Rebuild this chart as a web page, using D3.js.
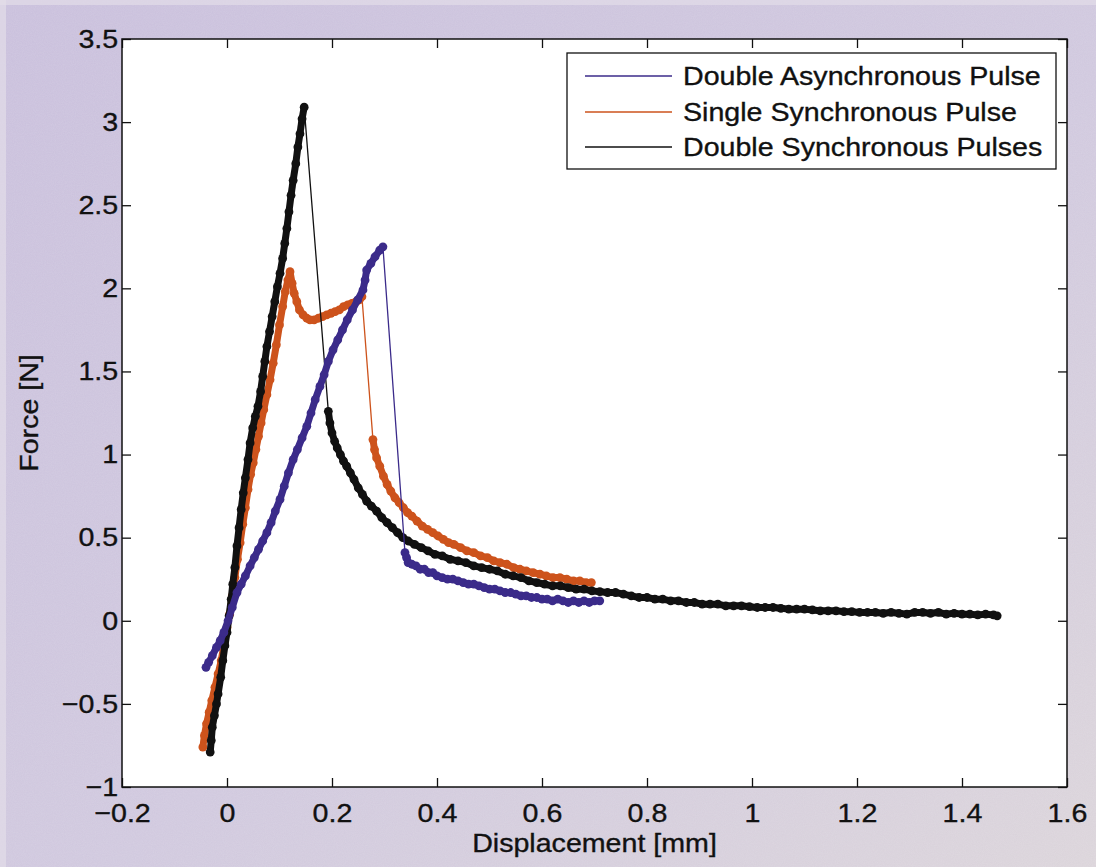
<!DOCTYPE html>
<html><head><meta charset="utf-8">
<script src="https://cdn.jsdelivr.net/npm/d3@7"></script>
<style>
html,body{margin:0;padding:0;background:#cfc7dd;}
svg{display:block;}
text{font-family:"Liberation Sans",Arial,Helvetica,sans-serif;fill:#111;stroke:#111;stroke-width:0.35px;}
</style></head>
<body>
<svg id="chart" width="1096" height="867"></svg>
<script>
// ---- Data ----
const seriesNames = ["Double Asynchronous Pulse","Single Synchronous Pulse","Double Synchronous Pulses"];
const seriesColors = ["#3b2b8a","#cd531c","#111111"];

const asyncX = [-0.040,-0.035,-0.028,-0.020,-0.013,-0.006,0.002,0.010,0.019,0.027,0.035,0.044,0.052,0.060,0.068,0.076,0.084,0.092,0.101,0.109,0.117,0.126,0.134,0.143,0.152,0.160,0.168,0.177,0.185,0.193,0.202,0.211,0.220,0.229,0.239,0.249,0.259,0.263,0.266,0.274,0.282,0.291,0.297,
  0.339,0.342,0.345,0.352,0.360,0.368,0.376,0.384,0.392,0.400,0.410,0.420,0.430,0.440,0.450,0.460,0.470,0.480,0.490,0.500,0.510,0.520,0.530,0.540,0.550,0.560,0.570,0.580,0.590,0.600,0.610,0.620,0.630,0.640,0.650,0.660,0.670,0.680,0.690,0.700,0.710];
const asyncY = [-0.28,-0.25,-0.21,-0.16,-0.12,-0.07,0.00,0.08,0.17,0.22,0.27,0.33,0.38,0.43,0.48,0.53,0.59,0.66,0.73,0.81,0.89,0.97,1.03,1.10,1.17,1.25,1.33,1.41,1.48,1.56,1.63,1.69,1.75,1.81,1.87,1.93,1.99,2.05,2.11,2.15,2.19,2.23,2.25,
  0.41,0.38,0.35,0.34,0.33,0.31,0.31,0.29,0.29,0.27,0.26,0.25,0.25,0.24,0.23,0.22,0.22,0.21,0.20,0.19,0.19,0.18,0.17,0.17,0.16,0.15,0.15,0.14,0.14,0.13,0.13,0.12,0.13,0.12,0.11,0.12,0.11,0.12,0.11,0.12,0.12];

const singleX = [-0.046,-0.043,-0.039,-0.034,-0.029,-0.023,-0.017,-0.011,-0.005,0.000,0.005,0.010,0.015,0.020,0.025,0.030,0.035,0.040,0.045,0.050,0.055,0.060,0.065,0.070,0.076,0.082,0.088,0.094,0.100,0.106,0.111,0.116,0.120,
  0.124,0.128,0.133,0.138,0.145,0.152,0.158,0.166,0.174,0.182,0.190,0.198,0.206,0.214,0.222,0.230,0.238,0.246,0.252,0.257,
  0.278,0.281,0.285,0.291,0.298,0.305,0.312,0.320,0.328,0.336,0.344,0.352,0.362,0.372,0.382,0.392,0.402,0.412,0.422,0.432,0.445,0.457,0.470,0.483,0.496,0.508,0.520,0.533,0.546,0.558,0.570,0.583,0.596,0.608,0.621,0.634,0.647,0.660,0.672,0.684,0.694];
const singleY = [-0.76,-0.69,-0.62,-0.55,-0.48,-0.40,-0.32,-0.24,-0.13,-0.04,0.04,0.15,0.26,0.37,0.47,0.58,0.68,0.79,0.88,0.95,1.03,1.11,1.19,1.27,1.36,1.45,1.55,1.66,1.78,1.89,1.98,2.05,2.10,
  2.03,1.97,1.92,1.87,1.84,1.82,1.81,1.81,1.82,1.83,1.84,1.85,1.86,1.87,1.89,1.90,1.91,1.92,1.93,1.95,
  1.09,1.03,0.98,0.93,0.87,0.82,0.78,0.74,0.71,0.68,0.65,0.63,0.60,0.57,0.55,0.53,0.51,0.49,0.47,0.46,0.44,0.42,0.41,0.39,0.38,0.36,0.35,0.34,0.32,0.31,0.30,0.29,0.28,0.27,0.26,0.26,0.25,0.24,0.24,0.23,0.23];

const doubleX = [-0.032,-0.030,-0.028,-0.024,-0.020,-0.017,-0.012,-0.008,-0.004,0.000,0.004,0.008,0.011,0.015,0.019,0.023,0.027,0.031,0.035,0.040,0.044,0.049,0.054,0.059,0.064,0.068,0.072,0.076,0.081,0.086,0.091,0.096,0.101,0.106,0.110,0.114,0.118,0.122,0.126,0.131,0.135,0.139,0.143,0.147,
  0.193,0.196,0.200,0.205,0.210,0.216,0.222,0.228,0.235,0.242,0.250,0.258,0.266,0.275,0.285,0.295,0.305,0.315,0.325,0.335,0.345,0.357,0.370,0.383,0.396,0.410,0.425,0.440,0.455,0.470,0.485,0.500,0.515,0.530,0.545,0.560,0.575,0.590,0.605,0.620,0.635,0.650,0.665,0.680,0.695,0.710,0.725,0.740,0.755,0.770,0.785,0.800,0.815,0.830,0.845,0.860,0.875,0.890,0.905,0.920,0.935,0.950,0.965,0.980,0.995,1.010,1.025,1.040,1.055,1.070,1.085,1.100,1.115,1.130,1.145,1.160,1.175,1.190,1.205,1.220,1.235,1.250,1.265,1.280,1.295,1.310,1.325,1.340,1.355,1.370,1.385,1.400,1.415,1.430,1.445,1.460,1.467];
const doubleY = [-0.79,-0.72,-0.64,-0.57,-0.50,-0.44,-0.34,-0.24,-0.15,-0.07,0.03,0.13,0.22,0.32,0.45,0.56,0.67,0.77,0.86,0.97,1.07,1.16,1.23,1.29,1.38,1.47,1.56,1.65,1.74,1.83,1.92,2.01,2.09,2.18,2.27,2.36,2.46,2.56,2.65,2.75,2.85,2.93,3.02,3.09,
  1.26,1.19,1.13,1.08,1.04,1.00,0.96,0.93,0.89,0.85,0.80,0.76,0.72,0.69,0.66,0.62,0.59,0.56,0.53,0.50,0.48,0.46,0.44,0.42,0.40,0.39,0.37,0.36,0.35,0.33,0.32,0.31,0.30,0.28,0.27,0.26,0.24,0.23,0.22,0.21,0.21,0.20,0.19,0.19,0.18,0.175,0.17,0.17,0.16,0.15,0.14,0.14,0.13,0.13,0.12,0.12,0.11,0.11,0.10,0.10,0.10,0.09,0.09,0.09,0.085,0.08,0.08,0.08,0.075,0.07,0.07,0.07,0.065,0.06,0.06,0.06,0.055,0.055,0.05,0.05,0.05,0.045,0.05,0.045,0.04,0.05,0.05,0.045,0.05,0.04,0.045,0.04,0.04,0.035,0.04,0.035,0.03];

const xTicks = [-0.2,0,0.2,0.4,0.6,0.8,1,1.2,1.4,1.6];
const yTicks = [-1,-0.5,0,0.5,1,1.5,2,2.5,3,3.5];
const xLabel = "Displacement [mm]";
const yLabel = "Force [N]";

// ---- Layout ----
const W = 1096, H = 867;
const L = 122, R = 1067, T = 39, B = 787;
const FS = 26, SX = 1.1;

const svg = d3.select("#chart");
const defs = svg.append("defs");
const grad = defs.append("linearGradient").attr("id","bg").attr("x1","0").attr("y1","0").attr("x2","1").attr("y2","1");
grad.append("stop").attr("offset","0").attr("stop-color","#c9bfdc");
grad.append("stop").attr("offset","0.55").attr("stop-color","#d0c8de");
grad.append("stop").attr("offset","1").attr("stop-color","#dbd4da");
const f = defs.append("filter").attr("id","noise").attr("x","0").attr("y","0").attr("width","1").attr("height","1");
f.append("feTurbulence").attr("type","fractalNoise").attr("baseFrequency","0.9").attr("numOctaves","2").attr("seed","3");
f.append("feColorMatrix").attr("type","matrix").attr("values","0 0 0 0 1  0 0 0 0 1  0 0 0 0 1  0 0 0 0.5 0");

svg.append("rect").attr("width",W).attr("height",H).attr("fill","url(#bg)");
svg.append("rect").attr("width",W).attr("height",H).attr("filter","url(#noise)").attr("opacity",0.25);
svg.append("rect").attr("x",0).attr("y",0).attr("width",W).attr("height",5).attr("fill","#e2dde8").attr("opacity",0.7);
svg.append("rect").attr("x",0).attr("y",0).attr("width",6).attr("height",H).attr("fill","#e2dde8").attr("opacity",0.7);

svg.append("rect").attr("x",L).attr("y",T).attr("width",R-L).attr("height",B-T).attr("fill","#fff");

const x = d3.scaleLinear().domain([-0.2,1.6]).range([L,R]);
const y = d3.scaleLinear().domain([-1,3.5]).range([B,T]);

const fmt = v => (v<0 ? "\u2212" : "") + d3.format("")(Math.abs(+v.toFixed(2)));

const gx = svg.append("g").attr("transform",`translate(0,${B})`)
  .call(d3.axisBottom(x).tickValues(xTicks).tickSizeInner(-9).tickSizeOuter(0).tickPadding(16.5).tickFormat(fmt));
const gy = svg.append("g").attr("transform",`translate(${L},0)`)
  .call(d3.axisLeft(y).tickValues(yTicks).tickSizeInner(-9).tickSizeOuter(0).tickPadding(3.5).tickFormat(fmt));
const gt = svg.append("g").attr("transform",`translate(0,${T})`)
  .call(d3.axisTop(x).tickValues(xTicks).tickSizeInner(-9).tickSizeOuter(0).tickFormat(""));
const gr = svg.append("g").attr("transform",`translate(${R},0)`)
  .call(d3.axisRight(y).tickValues(yTicks).tickSizeInner(-9).tickSizeOuter(0).tickFormat(""));
[gx,gy,gt,gr].forEach(g=>{
  g.select(".domain").remove();
  g.selectAll(".tick line").attr("stroke","#111").attr("stroke-width",1.3);
  g.selectAll("text").attr("font-size",FS).attr("font-family",null).attr("fill","#111")
    .attr("transform",`scale(${SX},1)`);
});

const series = [
  {xs: asyncX, ys: asyncY, color: seriesColors[0]},
  {xs: singleX, ys: singleY, color: seriesColors[1]},
  {xs: doubleX, ys: doubleY, color: seriesColors[2]}
];
const drawOrder = [1,2,0];
const clip = defs.append("clipPath").attr("id","clip");
clip.append("rect").attr("x",L).attr("y",T).attr("width",R-L).attr("height",B-T);
const plot = svg.append("g").attr("clip-path","url(#clip)");
const line = d3.line().x(d=>x(d[0])).y(d=>y(d[1]));

drawOrder.forEach(i=>{
  const s = series[i];
  const pts = s.xs.map((v,k)=>[v,s.ys[k]]);
  const g = plot.append("g");
  g.append("path").attr("d",line(pts)).attr("fill","none").attr("stroke",s.color).attr("stroke-width",1.3);
  for(let k=1;k<pts.length;k++){
    const dx = x(pts[k][0])-x(pts[k-1][0]), dy = y(pts[k][1])-y(pts[k-1][1]);
    if(Math.hypot(dx,dy) < 40){
      g.append("path").attr("d",line([pts[k-1],pts[k]])).attr("fill","none")
        .attr("stroke",s.color).attr("stroke-width",7).attr("stroke-linecap","round");
    }
  }
  g.selectAll("circle").data(pts).join("circle")
    .attr("cx",d=>x(d[0])).attr("cy",d=>y(d[1])).attr("r",4.4).attr("fill",s.color);
});

svg.append("rect").attr("x",L).attr("y",T).attr("width",R-L).attr("height",B-T)
  .attr("fill","none").attr("stroke","#111").attr("stroke-width",1.5);

svg.append("text").attr("transform",`translate(${(L+R)/2},852) scale(${SX},1)`)
  .attr("text-anchor","middle").attr("font-size",FS).text(xLabel);
svg.append("text").attr("transform",`translate(38,${(T+B)/2}) rotate(-90) scale(${SX},1)`)
  .attr("text-anchor","middle").attr("font-size",FS).text(yLabel);

const lg = svg.append("g");
lg.append("rect").attr("x",567).attr("y",53).attr("width",489).attr("height",116)
  .attr("fill","#fff").attr("stroke","#111").attr("stroke-width",1.3);
const rowY = [76,112,147];
seriesNames.forEach((name,i)=>{
  lg.append("line").attr("x1",585).attr("x2",672).attr("y1",rowY[i]).attr("y2",rowY[i])
    .attr("stroke",seriesColors[i]).attr("stroke-width",1.3);
  lg.append("text").attr("transform",`translate(683,${rowY[i]+9}) scale(${SX},1)`)
    .attr("font-size",FS).text(name);
});
</script>
</body></html>
